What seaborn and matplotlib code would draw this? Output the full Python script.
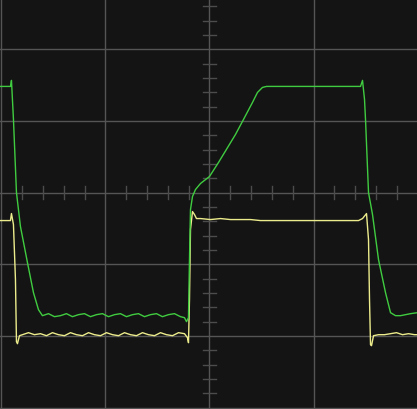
import numpy as np
import pandas as pd
import matplotlib
matplotlib.use("Agg")
import matplotlib.pyplot as plt
import seaborn as sns

# Time in microseconds (10 us/div), voltage in divisions (1 V/div)
green_px = [0, 10, 11, 13, 16, 20, 27, 33, 38, 42, 48, 54, 60, 66, 72, 78, 84, 90, 96, 102,
            108, 114, 120, 126, 132, 138, 144, 150, 156, 162, 168, 174, 180, 184, 186, 188,
            189, 190, 192, 195, 200, 209, 218, 235, 243, 252, 257, 262, 266, 360, 362, 364,
            365, 368, 372, 378, 385, 390, 395, 400, 405, 410, 417]
green_py = [87, 87, 81, 120, 193, 227, 263, 293, 310, 316, 314, 317, 316, 314, 317, 315, 314, 317, 315, 314,
            317, 315, 314, 317, 315, 314, 317, 315, 314, 317, 315, 314, 317, 318, 322, 318,
            260, 210, 197, 190, 184, 177, 163, 135, 120, 103, 93, 88, 87, 87, 81, 100,
            120, 193, 215, 260, 293, 313, 316, 316, 315, 314, 313]

yellow_px = [0, 10, 11, 13, 15, 16, 17, 19, 22, 28, 34, 40, 46, 52, 58, 64, 70, 76, 82, 88,
             94, 100, 106, 112, 118, 124, 130, 136, 142, 148, 154, 160, 166, 172, 178, 184,
             187, 188, 189, 190, 192, 194, 196, 200, 210, 220, 230, 240, 250, 260, 300, 358,
             362, 366, 368, 369, 370, 371, 373, 378, 384, 390, 396, 402, 408, 414, 417]
yellow_py = [221, 221, 214, 225, 280, 342, 344, 336, 335, 333, 335, 334, 336, 333, 335, 336, 333, 335, 336, 333,
             335, 336, 333, 335, 336, 333, 335, 336, 333, 335, 336, 333, 335, 336, 333, 334,
             338, 343, 300, 230, 212, 215, 219, 219, 220, 219, 220, 220, 220, 221, 221, 221,
             219, 214, 240, 300, 345, 346, 336, 335, 335, 334, 333, 335, 334, 335, 335]

ch1_time = [(p - 209) / 10.4 for p in green_px]
ch1_volt = [(193 - p) / 71.6 for p in green_py]
ch2_time = [(p - 209) / 10.4 for p in yellow_px]
ch2_volt = [(193 - p) / 71.6 for p in yellow_py]

df1 = pd.DataFrame({"t": ch1_time, "v": ch1_volt})
df2 = pd.DataFrame({"t": ch2_time, "v": ch2_volt})

BG = "#141414"
GRID = "#555555"

fig = plt.figure(figsize=(4.17, 4.10), dpi=100)
fig.patch.set_facecolor(BG)
ax = fig.add_axes([0, 0, 1, 1])
ax.set_facecolor(BG)

xlim = (-20.14, 19.95)
ylim = (-3.02, 2.70)

# major graticule
for xv in [-20, -10, 0, 10]:
    ax.axvline(xv, color=GRID, lw=1.0, zorder=1)
for yv in [2, 1, 0, -1, -2, -3]:
    ax.axhline(yv, color=GRID, lw=1.0, zorder=1)

# minor ticks on center axes
hx = 6.2 / 10.4  # half tick width in time units
hy = 6.5 / 71.6
for k in np.arange(-3.0, 2.81, 0.2):
    if abs(k - round(k)) < 1e-6:
        continue
    ax.plot([-hx, hx], [k, k], color="#4c4c4c", lw=1.0, zorder=1)
for k in np.arange(-20, 21, 2):
    if k % 10 == 0:
        continue
    ax.plot([k, k], [-hy, hy], color="#4c4c4c", lw=1.0, zorder=1)

sns.lineplot(data=df2, x="t", y="v", sort=False, estimator=None, color="#ecec8c", lw=1.0, ax=ax, zorder=3)
sns.lineplot(data=df1, x="t", y="v", sort=False, estimator=None, color="#40cc40", lw=1.0, ax=ax, zorder=4)

ax.set_xlim(*xlim)
ax.set_ylim(*ylim)
ax.set_xticks([])
ax.set_yticks([])
ax.set_xlabel("")
ax.set_ylabel("")
for s in ax.spines.values():
    s.set_visible(False)

fig.savefig("out.png", dpi=100, facecolor=BG)
